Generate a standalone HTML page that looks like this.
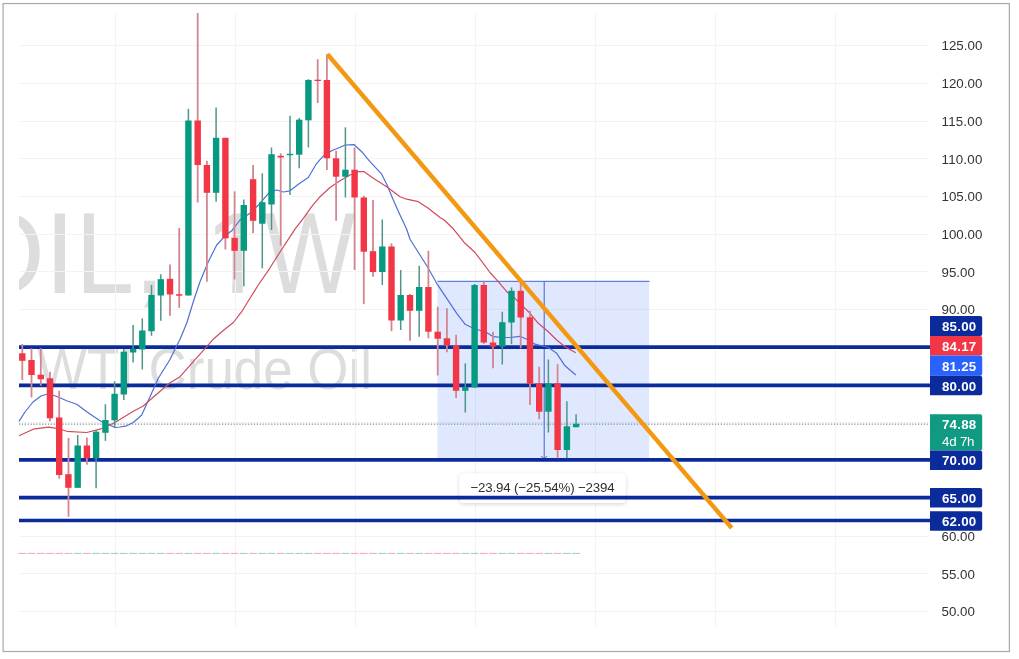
<!DOCTYPE html>
<html><head><meta charset="utf-8"><title>USOIL 1W</title>
<style>
html,body{margin:0;padding:0;background:#fff;}
body{width:1019px;height:659px;overflow:hidden;font-family:"Liberation Sans",sans-serif;}
svg{display:block}
text{font-family:"Liberation Sans",sans-serif}
</style></head><body>
<svg width="1019" height="659" viewBox="0 0 1019 659">
<rect x="0" y="0" width="1019" height="659" fill="#fff"/>
<rect x="3.1" y="3.55" width="1006.3" height="647.95" fill="#fff" stroke="#ababab" stroke-width="1.25"/>

<g fill="#dddddd">
<clipPath id="cp"><rect x="19" y="13" width="911" height="614"/></clipPath>
<g clip-path="url(#cp)">
<text y="292.9" font-size="115.1"><tspan x="-41.05" textLength="85.94" lengthAdjust="spacingAndGlyphs">O</tspan><tspan x="44.5" textLength="30.70" lengthAdjust="spacingAndGlyphs">I</tspan><tspan x="75.2" textLength="58.90" lengthAdjust="spacingAndGlyphs">L</tspan><tspan x="133.6">, </tspan><tspan x="204.4" textLength="62.10" lengthAdjust="spacingAndGlyphs">1</tspan><tspan x="264.3" textLength="91.14" lengthAdjust="spacingAndGlyphs">W</tspan></text>
<rect x="205" y="283.8" width="27.2" height="11" fill="#fff"/><rect x="242.7" y="283.8" width="22" height="11" fill="#fff"/>
<text x="37" y="389" font-size="57" textLength="335" lengthAdjust="spacingAndGlyphs">WTI Crude Oil</text>
</g></g>
<g stroke="#f3f3f3" stroke-width="1" shape-rendering="crispEdges">
<line x1="19" x2="929" y1="611.5" y2="611.5"/>
<line x1="19" x2="929" y1="573.8" y2="573.8"/>
<line x1="19" x2="929" y1="536.0" y2="536.0"/>
<line x1="19" x2="929" y1="498.3" y2="498.3"/>
<line x1="19" x2="929" y1="460.6" y2="460.6"/>
<line x1="19" x2="929" y1="422.9" y2="422.9"/>
<line x1="19" x2="929" y1="385.1" y2="385.1"/>
<line x1="19" x2="929" y1="347.4" y2="347.4"/>
<line x1="19" x2="929" y1="309.7" y2="309.7"/>
<line x1="19" x2="929" y1="271.9" y2="271.9"/>
<line x1="19" x2="929" y1="234.2" y2="234.2"/>
<line x1="19" x2="929" y1="196.5" y2="196.5"/>
<line x1="19" x2="929" y1="158.8" y2="158.8"/>
<line x1="19" x2="929" y1="121.1" y2="121.1"/>
<line x1="19" x2="929" y1="83.3" y2="83.3"/>
<line x1="19" x2="929" y1="45.6" y2="45.6"/>
<line x1="115.2" x2="115.2" y1="13" y2="627"/>
<line x1="235.2" x2="235.2" y1="13" y2="627"/>
<line x1="355.2" x2="355.2" y1="13" y2="627"/>
<line x1="475.2" x2="475.2" y1="13" y2="627"/>
<line x1="595.2" x2="595.2" y1="13" y2="627"/>
<line x1="715.2" x2="715.2" y1="13" y2="627"/>
<line x1="835.2" x2="835.2" y1="13" y2="627"/>
</g>
<rect x="437.5" y="281.3" width="211.7" height="180" fill="#2962ff" fill-opacity="0.15"/>
<line x1="437.5" x2="649.5" y1="281.3" y2="281.3" stroke="#3f63c8" stroke-width="1"/>
<line x1="544.2" x2="544.2" y1="281.3" y2="459" stroke="#3f63c8" stroke-width="1"/>
<path d="M541.2 456 L544.2 459 L547.2 456" fill="none" stroke="#3f63c8" stroke-width="1"/>
<g stroke-width="1" opacity="0.45">
<line x1="18.4" x2="26.2" y1="553.4" y2="553.4" stroke="#f23645"/>
<line x1="27.6" x2="35.4" y1="553.4" y2="553.4" stroke="#f23645"/>
<line x1="36.9" x2="44.7" y1="553.4" y2="553.4" stroke="#f23645"/>
<line x1="46.1" x2="53.9" y1="553.4" y2="553.4" stroke="#f23645"/>
<line x1="55.3" x2="63.1" y1="553.4" y2="553.4" stroke="#f23645"/>
<line x1="64.5" x2="72.4" y1="553.4" y2="553.4" stroke="#f23645"/>
<line x1="73.8" x2="81.6" y1="553.4" y2="553.4" stroke="#089981"/>
<line x1="83.0" x2="90.8" y1="553.4" y2="553.4" stroke="#f23645"/>
<line x1="92.2" x2="100.0" y1="553.4" y2="553.4" stroke="#089981"/>
<line x1="101.5" x2="109.3" y1="553.4" y2="553.4" stroke="#089981"/>
<line x1="110.7" x2="118.5" y1="553.4" y2="553.4" stroke="#089981"/>
<line x1="119.9" x2="127.7" y1="553.4" y2="553.4" stroke="#089981"/>
<line x1="129.2" x2="137.0" y1="553.4" y2="553.4" stroke="#089981"/>
<line x1="138.4" x2="146.2" y1="553.4" y2="553.4" stroke="#089981"/>
<line x1="147.6" x2="155.4" y1="553.4" y2="553.4" stroke="#089981"/>
<line x1="156.9" x2="164.7" y1="553.4" y2="553.4" stroke="#089981"/>
<line x1="166.1" x2="173.9" y1="553.4" y2="553.4" stroke="#f23645"/>
<line x1="175.3" x2="183.1" y1="553.4" y2="553.4" stroke="#f23645"/>
<line x1="184.5" x2="192.3" y1="553.4" y2="553.4" stroke="#089981"/>
<line x1="193.8" x2="201.6" y1="553.4" y2="553.4" stroke="#f23645"/>
<line x1="203.0" x2="210.8" y1="553.4" y2="553.4" stroke="#f23645"/>
<line x1="212.2" x2="220.0" y1="553.4" y2="553.4" stroke="#089981"/>
<line x1="221.5" x2="229.3" y1="553.4" y2="553.4" stroke="#f23645"/>
<line x1="230.7" x2="238.5" y1="553.4" y2="553.4" stroke="#f23645"/>
<line x1="239.9" x2="247.7" y1="553.4" y2="553.4" stroke="#089981"/>
<line x1="249.2" x2="256.9" y1="553.4" y2="553.4" stroke="#f23645"/>
<line x1="258.4" x2="266.2" y1="553.4" y2="553.4" stroke="#089981"/>
<line x1="267.6" x2="275.4" y1="553.4" y2="553.4" stroke="#089981"/>
<line x1="276.8" x2="284.6" y1="553.4" y2="553.4" stroke="#f23645"/>
<line x1="286.1" x2="293.9" y1="553.4" y2="553.4" stroke="#089981"/>
<line x1="295.3" x2="303.1" y1="553.4" y2="553.4" stroke="#089981"/>
<line x1="304.5" x2="312.3" y1="553.4" y2="553.4" stroke="#089981"/>
<line x1="313.8" x2="321.6" y1="553.4" y2="553.4" stroke="#f23645"/>
<line x1="323.0" x2="330.8" y1="553.4" y2="553.4" stroke="#f23645"/>
<line x1="332.2" x2="340.0" y1="553.4" y2="553.4" stroke="#f23645"/>
<line x1="341.5" x2="349.2" y1="553.4" y2="553.4" stroke="#089981"/>
<line x1="350.7" x2="358.5" y1="553.4" y2="553.4" stroke="#f23645"/>
<line x1="359.9" x2="367.7" y1="553.4" y2="553.4" stroke="#f23645"/>
<line x1="369.1" x2="376.9" y1="553.4" y2="553.4" stroke="#f23645"/>
<line x1="378.4" x2="386.2" y1="553.4" y2="553.4" stroke="#089981"/>
<line x1="387.6" x2="395.4" y1="553.4" y2="553.4" stroke="#f23645"/>
<line x1="396.8" x2="404.6" y1="553.4" y2="553.4" stroke="#089981"/>
<line x1="406.1" x2="413.9" y1="553.4" y2="553.4" stroke="#f23645"/>
<line x1="415.3" x2="423.1" y1="553.4" y2="553.4" stroke="#089981"/>
<line x1="424.5" x2="432.3" y1="553.4" y2="553.4" stroke="#f23645"/>
<line x1="433.8" x2="441.6" y1="553.4" y2="553.4" stroke="#f23645"/>
<line x1="443.0" x2="450.8" y1="553.4" y2="553.4" stroke="#f23645"/>
<line x1="452.2" x2="460.0" y1="553.4" y2="553.4" stroke="#f23645"/>
<line x1="461.4" x2="469.2" y1="553.4" y2="553.4" stroke="#089981"/>
<line x1="470.7" x2="478.5" y1="553.4" y2="553.4" stroke="#089981"/>
<line x1="479.9" x2="487.7" y1="553.4" y2="553.4" stroke="#f23645"/>
<line x1="489.1" x2="496.9" y1="553.4" y2="553.4" stroke="#f23645"/>
<line x1="498.4" x2="506.2" y1="553.4" y2="553.4" stroke="#089981"/>
<line x1="507.6" x2="515.4" y1="553.4" y2="553.4" stroke="#089981"/>
<line x1="516.8" x2="524.6" y1="553.4" y2="553.4" stroke="#f23645"/>
<line x1="526.1" x2="533.9" y1="553.4" y2="553.4" stroke="#f23645"/>
<line x1="535.3" x2="543.1" y1="553.4" y2="553.4" stroke="#f23645"/>
<line x1="544.5" x2="552.3" y1="553.4" y2="553.4" stroke="#089981"/>
<line x1="553.7" x2="561.5" y1="553.4" y2="553.4" stroke="#f23645"/>
<line x1="563.0" x2="570.8" y1="553.4" y2="553.4" stroke="#089981"/>
<line x1="572.2" x2="580.0" y1="553.4" y2="553.4" stroke="#089981"/>
</g>
<line x1="19" x2="929.8" y1="424.1" y2="424.1" stroke="#7b918c" stroke-width="1.1" stroke-dasharray="1.2 1.7"/>
<g stroke="#0c2b9b" stroke-width="3.7">
<line x1="19" x2="930.5" y1="347.1" y2="347.1"/>
<line x1="19" x2="930.5" y1="385.4" y2="385.4"/>
<line x1="19" x2="930.5" y1="459.9" y2="459.9"/>
<line x1="19" x2="930.5" y1="497.6" y2="497.6"/>
<line x1="19" x2="930.5" y1="520.5" y2="520.5"/>
</g>
<polyline points="19.0,421.3 25.0,412.0 33.0,402.0 41.0,396.0 48.3,393.8 57.0,396.5 66.7,400.8 76.7,404.2 86.7,411.7 100.0,420.8 108.0,424.5 115.0,427.5 120.0,427.0 126.7,425.8 133.3,422.5 141.7,415.0 150.0,396.7 158.3,378.3 169.7,360.0 180.0,339.2 186.7,323.3 193.3,301.7 200.0,281.7 208.3,261.7 216.7,245.0 225.0,235.8 231.7,230.8 240.0,220.0 250.0,213.3 260.0,203.3 270.0,191.7 276.7,190.0 283.3,192.0 290.0,190.8 298.3,184.2 308.3,177.5 316.7,163.3 325.0,154.2 333.3,150.0 339.7,147.5 345.0,145.0 354.2,144.7 361.7,151.7 370.0,161.7 381.7,174.2 386.7,184.2 393.3,200.0 400.0,215.0 406.7,229.2 410.0,239.2 420.0,255.0 428.3,268.3 436.7,283.3 446.7,298.3 456.7,313.3 465.0,324.2 473.3,328.3 486.7,332.5 493.3,336.7 503.3,337.5 510.0,337.5 520.0,336.3 526.7,339.2 535.0,344.2 548.3,347.5 556.7,353.3 565.0,365.8 575.8,375.0" fill="none" stroke="#4f6fd6" stroke-width="1.2" stroke-linejoin="round"/>
<polyline points="19.0,435.8 33.3,429.2 48.3,427.2 56.7,428.3 66.7,431.3 86.7,432.5 100.0,429.2 115.0,422.5 133.3,411.2 143.3,406.0 150.0,400.0 169.7,383.0 180.0,376.7 206.7,346.7 213.3,339.2 221.7,331.7 233.3,322.5 241.7,311.7 250.0,298.3 258.3,285.0 269.7,268.3 280.0,252.0 295.0,229.2 303.3,218.3 311.7,206.7 320.0,196.7 330.0,187.5 340.0,180.8 350.0,175.0 358.3,171.7 364.2,171.7 373.3,178.3 386.7,186.7 400.0,196.7 406.7,199.2 418.3,201.7 428.3,208.3 440.0,217.5 444.2,220.0 453.3,228.8 465.0,243.3 475.0,252.5 483.3,263.3 490.0,272.5 498.3,281.7 506.7,291.7 515.0,298.3 523.3,306.7 530.0,313.3 538.3,323.3 548.3,331.7 556.7,340.0 565.0,346.7 575.8,352.8" fill="none" stroke="#d24a5c" stroke-width="1.2" stroke-linejoin="round"/>
<g>
<line x1="22.3" x2="22.3" y1="344.0" y2="380.0" stroke="#d2868f" stroke-width="1.8"/>
<rect x="19.1" y="353.3" width="6.4" height="7.5" fill="#f23645"/>
<line x1="31.5" x2="31.5" y1="348.3" y2="397.5" stroke="#d2868f" stroke-width="1.8"/>
<rect x="28.3" y="360.0" width="6.4" height="15.0" fill="#f23645"/>
<line x1="40.8" x2="40.8" y1="348.3" y2="385.8" stroke="#d2868f" stroke-width="1.8"/>
<rect x="37.6" y="374.7" width="6.4" height="4.5" fill="#f23645"/>
<line x1="50.0" x2="50.0" y1="371.7" y2="421.3" stroke="#d2868f" stroke-width="1.8"/>
<rect x="46.8" y="378.3" width="6.4" height="40.0" fill="#f23645"/>
<line x1="59.2" x2="59.2" y1="390.8" y2="478.7" stroke="#d2868f" stroke-width="1.8"/>
<rect x="56.0" y="417.5" width="6.4" height="57.5" fill="#f23645"/>
<line x1="68.5" x2="68.5" y1="438.0" y2="516.7" stroke="#d2868f" stroke-width="1.8"/>
<rect x="65.2" y="474.2" width="6.4" height="13.6" fill="#f23645"/>
<line x1="77.7" x2="77.7" y1="435.0" y2="487.8" stroke="#4f9588" stroke-width="1.5"/>
<rect x="74.5" y="445.5" width="6.4" height="42.3" fill="#089981"/>
<line x1="86.9" x2="86.9" y1="437.5" y2="464.7" stroke="#d2868f" stroke-width="1.8"/>
<rect x="83.7" y="445.5" width="6.4" height="12.8" fill="#f23645"/>
<line x1="96.1" x2="96.1" y1="430.3" y2="488.3" stroke="#4f9588" stroke-width="1.5"/>
<rect x="92.9" y="431.7" width="6.4" height="26.6" fill="#089981"/>
<line x1="105.4" x2="105.4" y1="404.2" y2="440.8" stroke="#4f9588" stroke-width="1.5"/>
<rect x="102.2" y="420.0" width="6.4" height="12.8" fill="#089981"/>
<line x1="114.6" x2="114.6" y1="381.3" y2="427.5" stroke="#4f9588" stroke-width="1.5"/>
<rect x="111.4" y="393.8" width="6.4" height="26.5" fill="#089981"/>
<line x1="123.8" x2="123.8" y1="349.0" y2="400.0" stroke="#4f9588" stroke-width="1.5"/>
<rect x="120.6" y="351.7" width="6.4" height="42.8" fill="#089981"/>
<line x1="133.1" x2="133.1" y1="325.0" y2="362.5" stroke="#4f9588" stroke-width="1.5"/>
<rect x="129.9" y="348.8" width="6.4" height="3.7" fill="#089981"/>
<line x1="142.3" x2="142.3" y1="318.3" y2="369.5" stroke="#4f9588" stroke-width="1.5"/>
<rect x="139.1" y="330.5" width="6.4" height="19.0" fill="#089981"/>
<line x1="151.5" x2="151.5" y1="285.0" y2="335.8" stroke="#4f9588" stroke-width="1.5"/>
<rect x="148.3" y="295.0" width="6.4" height="36.2" fill="#089981"/>
<line x1="160.8" x2="160.8" y1="274.2" y2="320.8" stroke="#4f9588" stroke-width="1.5"/>
<rect x="157.6" y="279.2" width="6.4" height="16.3" fill="#089981"/>
<line x1="170.0" x2="170.0" y1="264.5" y2="315.8" stroke="#d2868f" stroke-width="1.8"/>
<rect x="166.8" y="278.8" width="6.4" height="15.7" fill="#f23645"/>
<line x1="179.2" x2="179.2" y1="228.0" y2="307.8" stroke="#d2868f" stroke-width="1.8"/>
<rect x="176.0" y="294.2" width="6.4" height="1.5" fill="#f23645"/>
<line x1="188.4" x2="188.4" y1="108.8" y2="295.5" stroke="#4f9588" stroke-width="1.5"/>
<rect x="185.2" y="120.5" width="6.4" height="175.0" fill="#089981"/>
<line x1="197.7" x2="197.7" y1="13.0" y2="202.5" stroke="#d2868f" stroke-width="1.8"/>
<rect x="194.5" y="120.5" width="6.4" height="44.5" fill="#f23645"/>
<line x1="206.9" x2="206.9" y1="160.8" y2="281.7" stroke="#d2868f" stroke-width="1.8"/>
<rect x="203.7" y="165.0" width="6.4" height="27.8" fill="#f23645"/>
<line x1="216.1" x2="216.1" y1="107.5" y2="201.7" stroke="#4f9588" stroke-width="1.5"/>
<rect x="212.9" y="137.8" width="6.4" height="55.0" fill="#089981"/>
<line x1="225.4" x2="225.4" y1="137.8" y2="249.5" stroke="#d2868f" stroke-width="1.8"/>
<rect x="222.2" y="137.8" width="6.4" height="100.5" fill="#f23645"/>
<line x1="234.6" x2="234.6" y1="191.3" y2="279.5" stroke="#d2868f" stroke-width="1.8"/>
<rect x="231.4" y="237.8" width="6.4" height="13.0" fill="#f23645"/>
<line x1="243.8" x2="243.8" y1="199.5" y2="286.2" stroke="#4f9588" stroke-width="1.5"/>
<rect x="240.6" y="205.0" width="6.4" height="45.8" fill="#089981"/>
<line x1="253.1" x2="253.1" y1="165.0" y2="233.3" stroke="#d2868f" stroke-width="1.8"/>
<rect x="249.9" y="179.2" width="6.4" height="41.6" fill="#f23645"/>
<line x1="262.3" x2="262.3" y1="173.3" y2="268.3" stroke="#4f9588" stroke-width="1.5"/>
<rect x="259.1" y="202.2" width="6.4" height="21.5" fill="#089981"/>
<line x1="271.5" x2="271.5" y1="147.5" y2="230.0" stroke="#4f9588" stroke-width="1.5"/>
<rect x="268.3" y="154.2" width="6.4" height="50.3" fill="#089981"/>
<line x1="280.7" x2="280.7" y1="153.3" y2="245.8" stroke="#d2868f" stroke-width="1.8"/>
<rect x="277.5" y="155.8" width="6.4" height="1.7" fill="#f23645"/>
<line x1="290.0" x2="290.0" y1="115.8" y2="195.0" stroke="#4f9588" stroke-width="1.5"/>
<rect x="286.8" y="153.8" width="6.4" height="1.4" fill="#089981"/>
<line x1="299.2" x2="299.2" y1="118.0" y2="168.3" stroke="#4f9588" stroke-width="1.5"/>
<rect x="296.0" y="119.7" width="6.4" height="35.0" fill="#089981"/>
<line x1="308.4" x2="308.4" y1="79.2" y2="147.5" stroke="#4f9588" stroke-width="1.5"/>
<rect x="305.2" y="80.0" width="6.4" height="40.3" fill="#089981"/>
<line x1="317.7" x2="317.7" y1="59.2" y2="103.0" stroke="#d2868f" stroke-width="1.8"/>
<rect x="314.5" y="79.7" width="6.4" height="1.3" fill="#f23645"/>
<line x1="326.9" x2="326.9" y1="54.2" y2="170.0" stroke="#d2868f" stroke-width="1.8"/>
<rect x="323.7" y="80.0" width="6.4" height="78.3" fill="#f23645"/>
<line x1="336.1" x2="336.1" y1="150.8" y2="220.8" stroke="#d2868f" stroke-width="1.8"/>
<rect x="332.9" y="158.3" width="6.4" height="18.4" fill="#f23645"/>
<line x1="345.4" x2="345.4" y1="127.3" y2="197.5" stroke="#4f9588" stroke-width="1.5"/>
<rect x="342.2" y="169.7" width="6.4" height="7.0" fill="#089981"/>
<line x1="354.6" x2="354.6" y1="147.5" y2="270.0" stroke="#d2868f" stroke-width="1.8"/>
<rect x="351.4" y="169.7" width="6.4" height="27.8" fill="#f23645"/>
<line x1="363.8" x2="363.8" y1="195.8" y2="304.2" stroke="#d2868f" stroke-width="1.8"/>
<rect x="360.6" y="197.5" width="6.4" height="54.2" fill="#f23645"/>
<line x1="373.0" x2="373.0" y1="200.0" y2="276.7" stroke="#d2868f" stroke-width="1.8"/>
<rect x="369.8" y="251.2" width="6.4" height="20.8" fill="#f23645"/>
<line x1="382.3" x2="382.3" y1="219.5" y2="285.0" stroke="#4f9588" stroke-width="1.5"/>
<rect x="379.1" y="246.5" width="6.4" height="25.5" fill="#089981"/>
<line x1="391.5" x2="391.5" y1="243.3" y2="331.2" stroke="#d2868f" stroke-width="1.8"/>
<rect x="388.3" y="246.5" width="6.4" height="74.0" fill="#f23645"/>
<line x1="400.7" x2="400.7" y1="270.0" y2="330.0" stroke="#4f9588" stroke-width="1.5"/>
<rect x="397.5" y="295.0" width="6.4" height="25.5" fill="#089981"/>
<line x1="410.0" x2="410.0" y1="294.0" y2="340.8" stroke="#d2868f" stroke-width="1.8"/>
<rect x="406.8" y="295.0" width="6.4" height="15.8" fill="#f23645"/>
<line x1="419.2" x2="419.2" y1="265.8" y2="336.7" stroke="#4f9588" stroke-width="1.5"/>
<rect x="416.0" y="287.0" width="6.4" height="23.8" fill="#089981"/>
<line x1="428.4" x2="428.4" y1="250.8" y2="338.3" stroke="#d2868f" stroke-width="1.8"/>
<rect x="425.2" y="287.0" width="6.4" height="44.7" fill="#f23645"/>
<line x1="437.7" x2="437.7" y1="306.7" y2="375.5" stroke="#d2868f" stroke-width="1.8"/>
<rect x="434.5" y="331.7" width="6.4" height="7.0" fill="#f23645"/>
<line x1="446.9" x2="446.9" y1="308.3" y2="352.2" stroke="#d2868f" stroke-width="1.8"/>
<rect x="443.7" y="338.3" width="6.4" height="7.0" fill="#f23645"/>
<line x1="456.1" x2="456.1" y1="334.7" y2="398.0" stroke="#d2868f" stroke-width="1.8"/>
<rect x="452.9" y="345.3" width="6.4" height="45.5" fill="#f23645"/>
<line x1="465.3" x2="465.3" y1="363.3" y2="412.5" stroke="#4f9588" stroke-width="1.5"/>
<rect x="462.1" y="387.0" width="6.4" height="3.8" fill="#089981"/>
<line x1="474.6" x2="474.6" y1="284.0" y2="387.5" stroke="#4f9588" stroke-width="1.5"/>
<rect x="471.4" y="285.0" width="6.4" height="102.5" fill="#089981"/>
<line x1="483.8" x2="483.8" y1="281.7" y2="343.8" stroke="#d2868f" stroke-width="1.8"/>
<rect x="480.6" y="285.0" width="6.4" height="57.5" fill="#f23645"/>
<line x1="493.0" x2="493.0" y1="331.7" y2="368.3" stroke="#d2868f" stroke-width="1.8"/>
<rect x="489.8" y="342.5" width="6.4" height="4.2" fill="#f23645"/>
<line x1="502.3" x2="502.3" y1="311.7" y2="364.5" stroke="#4f9588" stroke-width="1.5"/>
<rect x="499.1" y="322.2" width="6.4" height="24.3" fill="#089981"/>
<line x1="511.5" x2="511.5" y1="287.5" y2="344.2" stroke="#4f9588" stroke-width="1.5"/>
<rect x="508.3" y="290.8" width="6.4" height="31.7" fill="#089981"/>
<line x1="520.7" x2="520.7" y1="280.8" y2="348.3" stroke="#d2868f" stroke-width="1.8"/>
<rect x="517.5" y="290.8" width="6.4" height="26.7" fill="#f23645"/>
<line x1="530.0" x2="530.0" y1="310.8" y2="405.0" stroke="#d2868f" stroke-width="1.8"/>
<rect x="526.8" y="317.3" width="6.4" height="66.4" fill="#f23645"/>
<line x1="539.2" x2="539.2" y1="366.7" y2="419.2" stroke="#d2868f" stroke-width="1.8"/>
<rect x="536.0" y="383.3" width="6.4" height="28.4" fill="#f23645"/>
<line x1="548.4" x2="548.4" y1="359.5" y2="432.5" stroke="#4f9588" stroke-width="1.5"/>
<rect x="545.2" y="383.3" width="6.4" height="28.4" fill="#089981"/>
<line x1="557.6" x2="557.6" y1="364.2" y2="458.3" stroke="#d2868f" stroke-width="1.8"/>
<rect x="554.4" y="383.3" width="6.4" height="66.7" fill="#f23645"/>
<line x1="566.9" x2="566.9" y1="401.3" y2="458.3" stroke="#4f9588" stroke-width="1.5"/>
<rect x="563.7" y="426.3" width="6.4" height="23.7" fill="#089981"/>
<line x1="576.1" x2="576.1" y1="414.2" y2="427.2" stroke="#4f9588" stroke-width="1.5"/>
<rect x="572.9" y="423.7" width="6.4" height="3.5" fill="#089981"/>
</g>
<filter id="sh" x="-10%" y="-30%" width="120%" height="170%"><feGaussianBlur in="SourceAlpha" stdDeviation="2"/><feOffset dy="1"/><feComponentTransfer><feFuncA type="linear" slope="0.18"/></feComponentTransfer><feMerge><feMergeNode/><feMergeNode in="SourceGraphic"/></feMerge></filter>
<rect x="459.6" y="473.5" width="166" height="29.5" rx="4" fill="#fff" filter="url(#sh)"/>
<line x1="459" x2="626" y1="497.6" y2="497.6" stroke="#0c2b9b" stroke-width="3.7"/>
<text x="470.4" y="492.2" font-size="13.3" fill="#2f2f2f" textLength="144.3" lengthAdjust="spacing">−23.94 (−25.54%) −2394</text>
<line x1="327.5" y1="54.2" x2="731.7" y2="528" stroke="#f39811" stroke-width="4.4"/>
<g font-size="13.3" fill="#333333">
<text x="941.5" y="616.2" textLength="33.3" lengthAdjust="spacing">50.00</text>
<text x="941.5" y="578.5" textLength="33.3" lengthAdjust="spacing">55.00</text>
<text x="941.5" y="540.7" textLength="33.3" lengthAdjust="spacing">60.00</text>
<text x="941.5" y="427.6" textLength="33.3" lengthAdjust="spacing">75.00</text>
<text x="941.5" y="314.4" textLength="33.3" lengthAdjust="spacing">90.00</text>
<text x="941.5" y="276.6" textLength="33.3" lengthAdjust="spacing">95.00</text>
<text x="941.5" y="238.9" textLength="40.8" lengthAdjust="spacing">100.00</text>
<text x="941.5" y="201.2" textLength="40.8" lengthAdjust="spacing">105.00</text>
<text x="941.5" y="163.5" textLength="40.8" lengthAdjust="spacing">110.00</text>
<text x="941.5" y="125.8" textLength="40.8" lengthAdjust="spacing">115.00</text>
<text x="941.5" y="88.0" textLength="40.8" lengthAdjust="spacing">120.00</text>
<text x="941.5" y="50.3" textLength="40.8" lengthAdjust="spacing">125.00</text>
</g>
<path d="M930.0 414.2 H980.2 Q982.2 414.2 982.2 416.2 V448.4 Q982.2 450.4 980.2 450.4 H930.0 Z" fill="#119a82"/>
<path d="M930.0 316.0 H980.2 Q982.2 316.0 982.2 318.0 V333.9 Q982.2 335.9 980.2 335.9 H930.0 Z" fill="#0c2b9b"/>
<path d="M930.0 335.9 H980.2 Q982.2 335.9 982.2 337.9 V353.6 Q982.2 355.6 980.2 355.6 H930.0 Z" fill="#f23645"/>
<path d="M930.0 355.6 H980.2 Q982.2 355.6 982.2 357.6 V373.7 Q982.2 375.7 980.2 375.7 H930.0 Z" fill="#2962ff"/>
<path d="M930.0 375.7 H980.2 Q982.2 375.7 982.2 377.7 V393.3 Q982.2 395.3 980.2 395.3 H930.0 Z" fill="#0c2b9b"/>
<path d="M930.0 450.5 H980.2 Q982.2 450.5 982.2 452.5 V468.1 Q982.2 470.1 980.2 470.1 H930.0 Z" fill="#0c2b9b"/>
<path d="M930.0 488.0 H980.2 Q982.2 488.0 982.2 490.0 V505.6 Q982.2 507.6 980.2 507.6 H930.0 Z" fill="#0c2b9b"/>
<path d="M930.0 511.2 H980.2 Q982.2 511.2 982.2 513.2 V528.8 Q982.2 530.8 980.2 530.8 H930.0 Z" fill="#0c2b9b"/>
<g font-size="13.3" fill="#fff" font-weight="bold">
<text x="942" y="331.1" textLength="34.2" lengthAdjust="spacing">85.00</text>
<text x="942" y="350.9" textLength="34.2" lengthAdjust="spacing">84.17</text>
<text x="942" y="370.8" textLength="34.2" lengthAdjust="spacing">81.25</text>
<text x="942" y="390.6" textLength="34.2" lengthAdjust="spacing">80.00</text>
<text x="942" y="465.4" textLength="34.2" lengthAdjust="spacing">70.00</text>
<text x="942" y="502.9" textLength="34.2" lengthAdjust="spacing">65.00</text>
<text x="942" y="526.1" textLength="34.2" lengthAdjust="spacing">62.00</text>
<text x="942" y="429.3" textLength="34.2" lengthAdjust="spacing">74.88</text>
</g>
<text x="942" y="445.7" font-size="13.3" fill="#fff" textLength="32.5" lengthAdjust="spacing">4d 7h</text>
</svg></body></html>
